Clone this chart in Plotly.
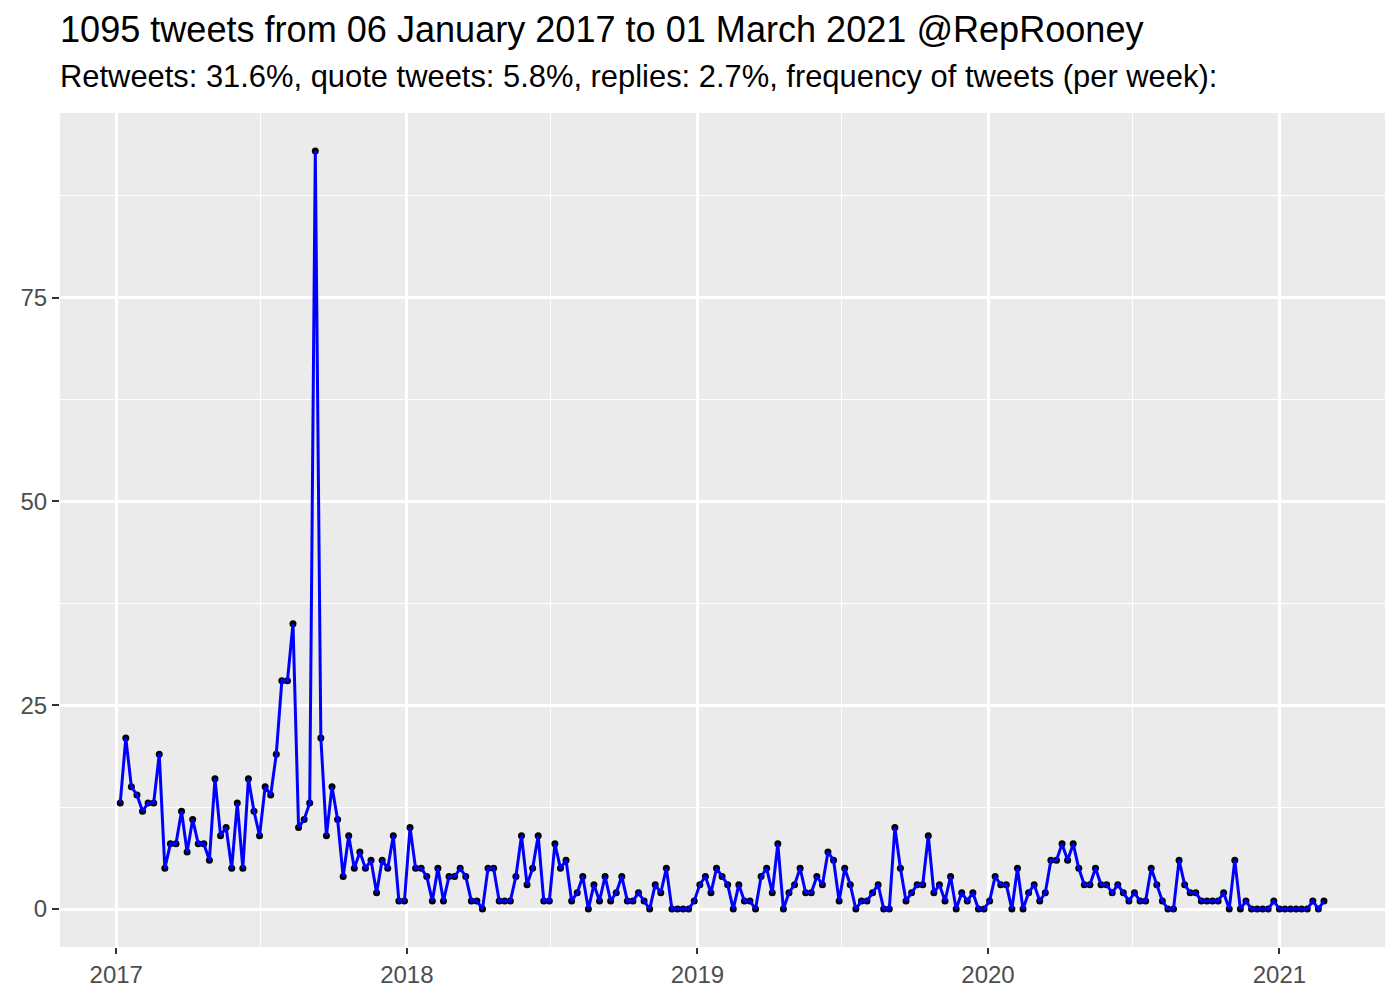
import pandas as pd
import plotly.graph_objects as go

TITLE = "1095 tweets from 06 January 2017 to 01 March 2021 @RepRooney"
SUBTITLE = ("Retweets: 31.6%, quote tweets: 5.8%, replies: 2.7%, "
            "frequency of tweets (per week):")

FIRST_WEEK = "2017-01-06"

# tweets per week
tweets_per_week = [
    13, 21, 15, 14, 12, 13, 13, 19, 5, 8,
    8, 12, 7, 11, 8, 8, 6, 16, 9, 10,
    5, 13, 5, 16, 12, 9, 15, 14, 19, 28,
    28, 35, 10, 11, 13, 93, 21, 9, 15, 11,
    4, 9, 5, 7, 5, 6, 2, 6, 5, 9,
    1, 1, 10, 5, 5, 4, 1, 5, 1, 4,
    4, 5, 4, 1, 1, 0, 5, 5, 1, 1,
    1, 4, 9, 3, 5, 9, 1, 1, 8, 5,
    6, 1, 2, 4, 0, 3, 1, 4, 1, 2,
    4, 1, 1, 2, 1, 0, 3, 2, 5, 0,
    0, 0, 0, 1, 3, 4, 2, 5, 4, 3,
    0, 3, 1, 1, 0, 4, 5, 2, 8, 0,
    2, 3, 5, 2, 2, 4, 3, 7, 6, 1,
    5, 3, 0, 1, 1, 2, 3, 0, 0, 10,
    5, 1, 2, 3, 3, 9, 2, 3, 1, 4,
    0, 2, 1, 2, 0, 0, 1, 4, 3, 3,
    0, 5, 0, 2, 3, 1, 2, 6, 6, 8,
    6, 8, 5, 3, 3, 5, 3, 3, 2, 3,
    2, 1, 2, 1, 1, 5, 3, 1, 0, 0,
    6, 3, 2, 2, 1, 1, 1, 1, 2, 0,
    6, 0, 1, 0, 0, 0, 0, 1, 0, 0,
    0, 0, 0, 0, 1, 0, 1,
]

weeks = pd.date_range(FIRST_WEEK, periods=len(tweets_per_week), freq="7D")

FONT = "Liberation Sans, Arial, sans-serif"
PANEL = "#EBEBEB"
TICK_TEXT = "#4D4D4D"
TICK = "#333333"

fig = go.Figure()
# points underneath, line on top (like geom_point + geom_line)
fig.add_trace(go.Scatter(
    x=weeks, y=tweets_per_week, mode="markers",
    marker=dict(color="black", size=7),
    hoverinfo="skip", showlegend=False,
))
fig.add_trace(go.Scatter(
    x=weeks, y=tweets_per_week, mode="lines",
    line=dict(color="blue", width=3),
    showlegend=False,
))

# page body adds an 8px offset, so the figure is 8px smaller
fig.update_layout(
    width=1392, height=992,
    margin=dict(l=47, r=15, t=105, b=53),
    paper_bgcolor="white",
    plot_bgcolor=PANEL,
    font=dict(family=FONT),
    showlegend=False,
    annotations=[
        dict(text=TITLE, xref="paper", yref="paper", x=0, y=1.1005,
             xanchor="left", yanchor="middle", showarrow=False, xshift=-2,
             font=dict(size=36.1, color="black", family=FONT)),
        dict(text=SUBTITLE, xref="paper", yref="paper", x=0, y=1.0436,
             xanchor="left", yanchor="middle", showarrow=False, xshift=-2,
             font=dict(size=30.9, color="black", family=FONT)),
    ],
)

fig.update_xaxes(
    range=["2016-10-22 08:00", "2021-05-13 16:00"],
    tick0="2017-01-01", dtick="M12", tickformat="%Y",
    showgrid=True, gridcolor="white", gridwidth=2.7,
    minor=dict(dtick="M6", tick0="2017-01-01", showgrid=True,
               gridcolor="white", gridwidth=1.3),
    ticks="outside", ticklen=6, tickwidth=2, tickcolor=TICK,
    tickfont=dict(size=24, color=TICK_TEXT, family=FONT),
    showline=False, zeroline=False,
)
fig.update_yaxes(
    range=[-4.65, 97.65],
    tick0=0, dtick=25,
    showgrid=True, gridcolor="white", gridwidth=2.7,
    minor=dict(dtick=12.5, tick0=0, showgrid=True,
               gridcolor="white", gridwidth=1.3),
    ticks="outside", ticklen=7, tickwidth=2, tickcolor=TICK,
    tickfont=dict(size=24, color=TICK_TEXT, family=FONT),
    showline=False, zeroline=False,
)

fig.write_html("out.html")
